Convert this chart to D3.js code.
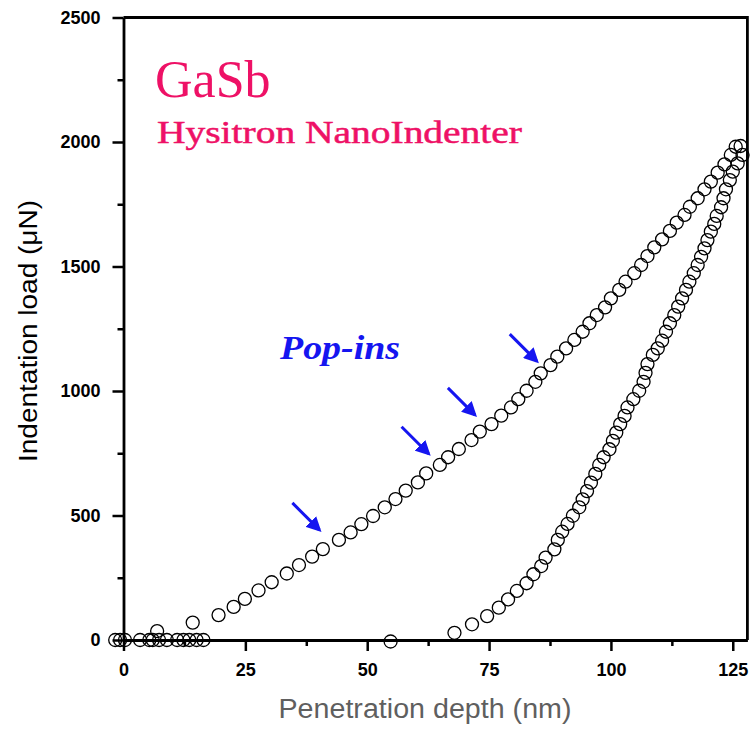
<!DOCTYPE html>
<html>
<head>
<meta charset="utf-8">
<script src="https://cdn.jsdelivr.net/npm/d3@7"></script>
<style>
  body { margin: 0; background: #fff; }
  svg { display: block; }
  .tick text { font-family: "Liberation Sans", Arial, sans-serif; font-weight: bold; font-size: 18px; fill: #000; }
</style>
</head>
<body>
<script>
// loading branch (nm, uN)
var loadDepth = [-1.7, -0.7, 0.3, 3.4, 5.3, 6.0, 6.9, 7.3, 8.9, 11.0, 12.3, 13.5, 14.2, 15.0, 16.4,
  19.5, 22.6, 24.9, 27.7, 30.4, 33.5, 36.0, 38.7, 40.9,
  44.2, 46.6, 48.8, 51.2, 53.6, 55.8, 57.9, 60.4, 62.1,
  64.9, 66.6, 68.8, 71.4, 73.1,
  75.5, 77.5, 79.5, 81.0, 82.7, 84.5, 85.6, 87.6, 89.0,
  90.8, 92.5, 94.2, 95.6, 97.1, 98.8, 100.0, 101.7, 103.0, 104.8, 106.2, 107.5,
  108.9, 110.5, 112.1, 113.5, 115.1, 116.2, 117.8, 119.2, 120.5, 121.9, 123.3, 124.6, 125.6, 126.6]
var loadForce = [0, 0, 0, 0, 0, 0, 36, 0, 0, 0, 0, 0, 70, 0, 0,
  100, 133, 165, 199, 232, 267, 301, 335, 365,
  402, 432, 465, 498, 533, 566, 600, 633, 669,
  703, 734, 767, 803, 837,
  867, 901, 934, 967, 1001, 1037, 1071, 1104, 1138,
  1171, 1205, 1238, 1272, 1305, 1336, 1372, 1406, 1439, 1473, 1506, 1542,
  1577, 1609, 1643, 1676, 1707, 1740, 1774, 1810, 1841, 1877, 1910, 1948, 1981, 1984]

// unloading branch
var unloadDepth = [127.0, 126.0, 125.0, 124.4, 123.6, 123.1, 122.6, 121.7, 121.2, 120.5, 119.8, 119.2,
  118.5, 117.8, 117.0, 116.1, 115.4, 114.6, 113.8, 113.0, 112.1, 111.3, 110.5, 109.6, 108.6,
  107.5, 107.1, 106.7, 105.8, 104.6, 103.4, 102.8, 101.9, 101.1, 100.4, 99.7, 98.5, 97.6,
  96.8, 95.9, 95.1, 94.2, 93.5, 92.2, 91.1, 90.0, 89.1, 88.4, 86.6, 85.7, 84.1, 82.7,
  80.7, 78.9, 77.0, 74.6, 71.5, 67.9, 54.8]
var unloadForce = [1948, 1914, 1881, 1847, 1810, 1774, 1738, 1703, 1671, 1640, 1606, 1573,
  1539, 1506, 1473, 1439, 1406, 1372, 1339, 1305, 1272, 1238, 1202, 1171, 1145,
  1108, 1073, 1037, 1001, 967, 934, 900, 867, 833, 800, 766, 734, 703,
  667, 632, 598, 565, 533, 499, 466, 435, 402, 364, 331, 297, 264, 228,
  197, 163, 130, 96, 63, 29, -6]

// pop-in arrows: tip positions
var popDepth = [40.8, 63.2, 72.7, 85.4]
var popForce = [430, 736, 892, 1108]

var xTicks = [0, 25, 50, 75, 100, 125]
var yTicks = [0, 500, 1000, 1500, 2000, 2500]

var width = 751, height = 729

var x = d3.scaleLinear().domain([0, 128]).range([123.5, 747.4])
var y = d3.scaleLinear().domain([0, 2500]).range([640, 17.5])

var svg = d3.select("body").append("svg")
    .attr("width", width)
    .attr("height", height)

svg.append("defs").append("marker")
    .attr("id", "head")
    .attr("viewBox", "0 0 10 10")
    .attr("refX", 8).attr("refY", 5)
    .attr("markerWidth", 5).attr("markerHeight", 5)
    .attr("orient", "auto")
  .append("path")
    .attr("d", "M0,0 L10,5 L0,10 z")
    .attr("fill", "#1515f0")

// minor ticks
svg.append("g")
    .attr("transform", "translate(0," + y(0) + ")")
    .call(d3.axisBottom(x).tickValues([12.5, 37.5, 62.5, 87.5, 112.5]).tickSize(6).tickFormat(""))
    .call(g => g.select(".domain").remove())
    .selectAll("line").attr("stroke-width", 2.5)
svg.append("g")
    .attr("transform", "translate(" + x(0) + ",0)")
    .call(d3.axisLeft(y).tickValues([250, 750, 1250, 1750, 2250]).tickSize(6).tickFormat(""))
    .call(g => g.select(".domain").remove())
    .selectAll("line").attr("stroke-width", 2.5)

// major axes
var xAxis = svg.append("g")
    .attr("transform", "translate(0," + y(0) + ")")
    .call(d3.axisBottom(x).tickValues(xTicks).tickFormat(d3.format("d")).tickSize(11).tickPadding(12).tickSizeOuter(0))
xAxis.select(".domain").attr("stroke-width", 2.8)
xAxis.selectAll("line").attr("stroke-width", 2.5)

var yAxis = svg.append("g")
    .attr("transform", "translate(" + x(0) + ",0)")
    .call(d3.axisLeft(y).tickValues(yTicks).tickFormat(d3.format("d")).tickSize(11).tickPadding(12).tickSizeOuter(0))
yAxis.select(".domain").attr("stroke-width", 2.8)
yAxis.selectAll("line").attr("stroke-width", 2.5)

// frame top and right
svg.append("path")
    .attr("d", "M" + x(0) + "," + y(2500) + "H" + x(128) + "V" + y(0))
    .attr("fill", "none")
    .attr("stroke", "#000")
    .attr("stroke-width", 2.8)

// axis titles
svg.append("text")
    .attr("transform", "translate(37," + 331 + ") rotate(-90)")
    .attr("text-anchor", "middle")
    .style("font-family", "Liberation Sans, Arial, sans-serif")
    .style("font-size", "25px")
    .attr("textLength", 262)
    .attr("lengthAdjust", "spacingAndGlyphs")
    .text("Indentation load (\u03bcN)")

svg.append("text")
    .attr("x", 425).attr("y", 718)
    .attr("text-anchor", "middle")
    .style("font-family", "Liberation Sans, Arial, sans-serif")
    .style("font-size", "27px")
    .attr("textLength", 293)
    .attr("lengthAdjust", "spacingAndGlyphs")
    .attr("fill", "#5f5f5f")
    .text("Penetration depth (nm)")

// points
function pts(xs, ys) { return xs.map(function(d, i) { return [d, ys[i]] }) }

svg.append("g").selectAll("circle")
    .data(pts(loadDepth, loadForce).concat(pts(unloadDepth, unloadForce)))
  .enter().append("circle")
    .attr("cx", function(d) { return x(d[0]) })
    .attr("cy", function(d) { return y(d[1]) })
    .attr("r", 6.5)
    .attr("fill", "none")
    .attr("stroke", "#000")
    .attr("stroke-width", 1.3)

// arrows
svg.append("g").selectAll("line")
    .data(pts(popDepth, popForce))
  .enter().append("line")
    .attr("x1", function(d) { return x(d[0]) - 30 })
    .attr("y1", function(d) { return y(d[1]) - 30 })
    .attr("x2", function(d) { return x(d[0]) - 3 })
    .attr("y2", function(d) { return y(d[1]) - 3 })
    .attr("stroke", "#1515f0")
    .attr("stroke-width", 3)
    .attr("marker-end", "url(#head)")

// labels
svg.append("text")
    .attr("x", 155).attr("y", 97)
    .style("font-family", "Liberation Serif, Times New Roman, serif")
    .style("font-size", "52px")
    .attr("fill", "#ee1166")
    .text("GaSb")

svg.append("text")
    .attr("x", 157).attr("y", 143)
    .style("font-family", "Liberation Serif, Times New Roman, serif")
    .style("font-size", "31px")
    .attr("textLength", 365)
    .attr("lengthAdjust", "spacingAndGlyphs")
    .attr("fill", "#ee1166")
    .attr("stroke", "#ee1166")
    .attr("stroke-width", 0.5)
    .text("Hysitron NanoIndenter")

svg.append("text")
    .attr("x", 280).attr("y", 359)
    .style("font-family", "Liberation Serif, Times New Roman, serif")
    .style("font-size", "33px")
    .style("font-weight", "bold")
    .style("font-style", "italic")
    .attr("textLength", 120)
    .attr("lengthAdjust", "spacingAndGlyphs")
    .attr("fill", "#1515f0")
    .text("Pop-ins")
</script>
</body>
</html>
